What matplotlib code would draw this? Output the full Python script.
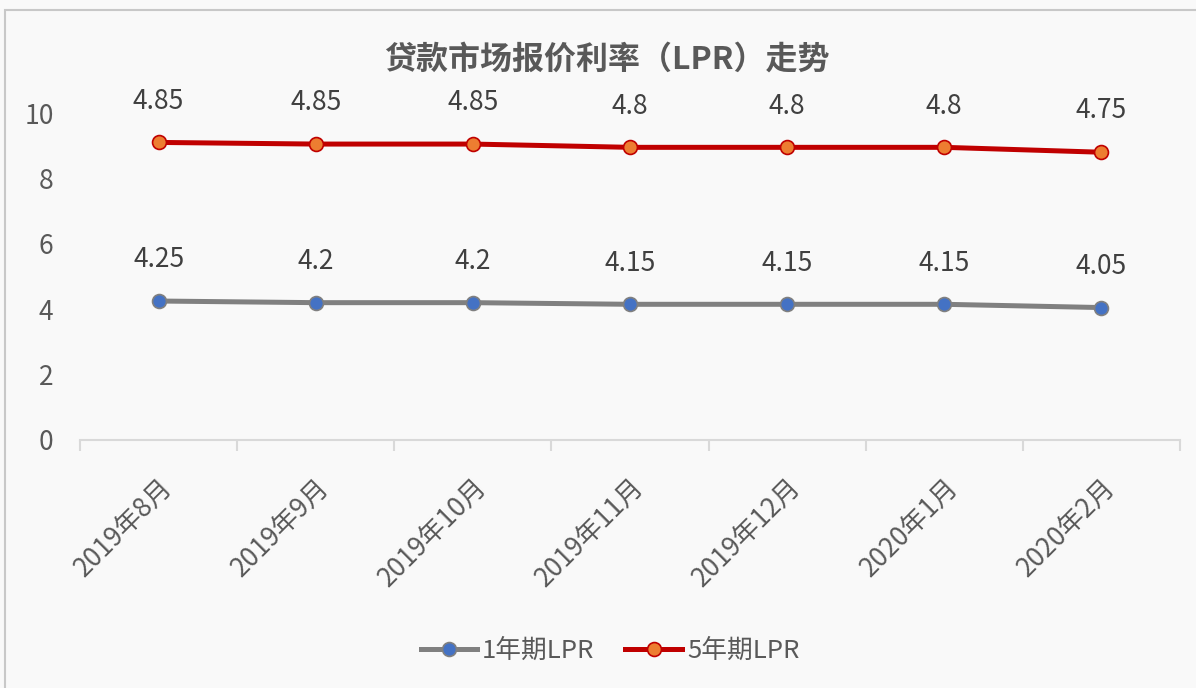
import matplotlib.pyplot as plt
import matplotlib.transforms as mtransforms
import numpy as np

plt.rcParams['font.family'] = ['Noto Sans CJK SC', 'DejaVu Sans']

months = ["2019年8月", "2019年9月", "2019年10月", "2019年11月",
          "2019年12月", "2020年1月", "2020年2月"]
lpr_1y = [4.25, 4.2, 4.2, 4.15, 4.15, 4.15, 4.05]
lpr_5y = [4.85, 4.85, 4.85, 4.8, 4.8, 4.8, 4.75]

# excel "stacked line": the 5y series sits on top of the 1y series
stack_5y = np.array(lpr_1y) + np.array(lpr_5y)

txt = "#595959"
fig = plt.figure(figsize=(11.96, 6.88), dpi=100, facecolor="#f9f9f9")
ax = fig.add_axes([80/1196, 248/688, 1100/1196, 327/688])
ax.set_facecolor("#f9f9f9")

x = np.arange(len(months))
ax.plot(x, lpr_1y, color="#808080", lw=3.6, marker="o", ms=10,
        mfc="#4472C4", mec="#808080", mew=1.2, label="1年期LPR", zorder=3)
ax.plot(x, stack_5y, color="#C00000", lw=3.6, marker="o", ms=10,
        mfc="#ED7D31", mec="#C00000", mew=1.2, label="5年期LPR", zorder=3)

for i in range(len(x)):
    ax.annotate(f"{lpr_1y[i]:g}", (x[i], lpr_1y[i]), xytext=(0, 20),
                textcoords="offset points", ha="center", va="bottom",
                fontsize=19, color="#404040")
    ax.annotate(f"{lpr_5y[i]:g}", (x[i], stack_5y[i]), xytext=(0, 20),
                textcoords="offset points", ha="center", va="bottom",
                fontsize=19, color="#404040")

ax.set_xlim(-0.5, len(months) - 0.5)
ax.set_ylim(0, 10)
ax.set_yticks([0, 2, 4, 6, 8, 10])
ax.set_xticks(x)
ax.set_xticklabels(months, rotation=45, ha="right", rotation_mode="anchor")
shift = mtransforms.ScaledTranslation(8/72, 0, fig.dpi_scale_trans)
for lab in ax.get_xticklabels():
    lab.set_transform(lab.get_transform() + shift)
ax.set_xticks(np.arange(-0.5, len(months)), minor=True)
ax.tick_params(axis="x", which="major", length=0, pad=24, labelsize=19, colors=txt)
ax.tick_params(axis="x", which="minor", length=8, color="#d9d9d9", width=1.5)
ax.tick_params(axis="y", length=0, labelsize=19, colors=txt, pad=19)

for s in ["top", "right", "left"]:
    ax.spines[s].set_visible(False)
ax.spines["bottom"].set_color("#d9d9d9")
ax.spines["bottom"].set_linewidth(1.5)

fig.text(607/1196, 1 - 60/688, "贷款市场报价利率（LPR）走势", ha="center", va="center",
         fontsize=23, fontweight="bold", color=txt)

fig.legend(loc="center", bbox_to_anchor=(610/1196, 1 - 651/688), ncol=2,
           frameon=False, fontsize=18.5, labelcolor=txt, handlelength=2.2,
           handletextpad=0.2, columnspacing=1.2)

# outer chart border like the excel frame
fig.add_artist(plt.Rectangle((5/1196, -0.05), 1.2, 1 - 10/688 + 0.05,
                             transform=fig.transFigure, fill=False,
                             edgecolor="#c8c8c8", lw=1.5))

fig.savefig("out.png", dpi=100, facecolor=fig.get_facecolor())
